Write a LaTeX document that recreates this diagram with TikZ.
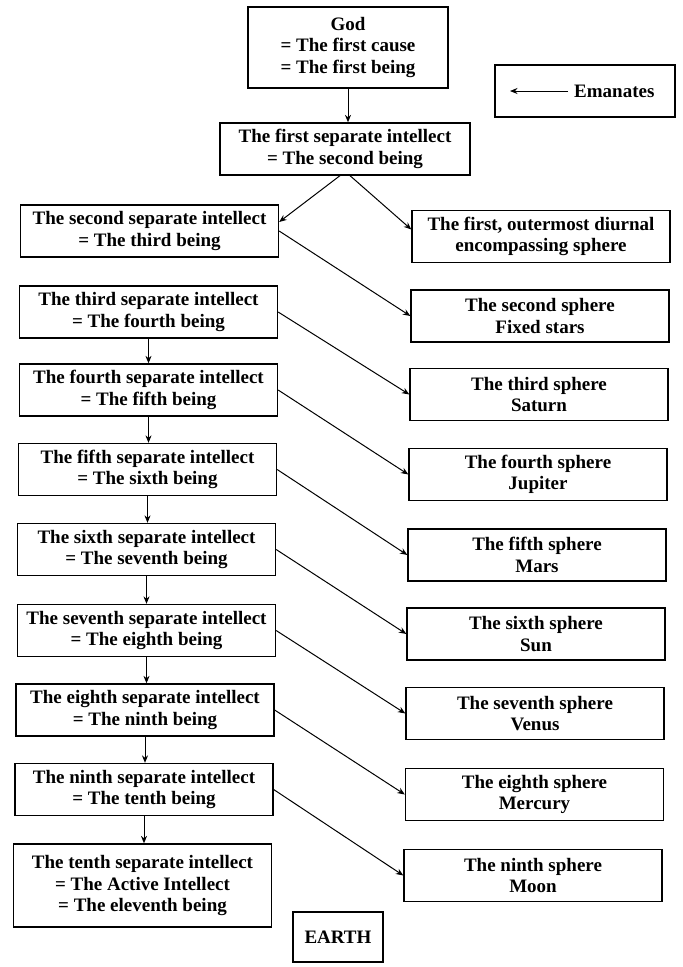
\documentclass[tikz,border=0pt]{standalone}
\usepackage{fontspec}
\setmainfont{Liberation Serif}
\usetikzlibrary{arrows.meta}
\begin{document}
\begin{tikzpicture}[x=1pt,y=-1pt,
  box/.style={draw, line width=1.3pt, align=center,
    font=\fontsize{19}{21.5}\selectfont\bfseries, inner sep=0pt,
    minimum height=52pt, minimum width=258pt},
  arr/.style={-{Stealth[length=7.5pt,width=6pt]}, line width=1pt}]
\useasboundingbox (0,0) rectangle (683,967);

% top
\node[box, minimum width=200pt, minimum height=81pt] (god) at (348,47.5)
  {God\\= The first cause\\= The first being};
\node[box, minimum width=180pt] (em) at (585,91) {};
\node[anchor=west, inner sep=0pt, font=\fontsize{19}{21.5}\selectfont\bfseries] (emt) at (574,91) {Emanates};
\coordinate (emtip) at (510,91);
\draw[arr] ([xshift=-6pt]emt.west) -- (emtip);

\node[box, minimum width=250pt] (i1) at (345,149)
  {The first separate intellect\\= The second being};

% left column
\node[box] (i2) at (149.5,231) {The second separate intellect\\= The third being};
\node[box] (i3) at (148.5,312) {The third separate intellect\\= The fourth being};
\node[box] (i4) at (148.5,390) {The fourth separate intellect\\= The fifth being};
\node[box] (i5) at (147.5,469.5) {The fifth separate intellect\\= The sixth being};
\node[box] (i6) at (146.5,549.5) {The sixth separate intellect\\= The seventh being};
\node[box] (i7) at (146.5,630.5) {The seventh separate intellect\\= The eighth being};
\node[box] (i8) at (145,710) {The eighth separate intellect\\= The ninth being};
\node[box] (i9) at (144,789.5) {The ninth separate intellect\\= The tenth being};
\node[box, minimum height=83pt] (i10) at (142.5,885.5)
  {The tenth separate intellect\\= The Active Intellect\\= The eleventh being};

% right column
\node[box] (s1) at (541,236.5) {The first, outermost diurnal\\encompassing sphere};
\node[box] (s2) at (540,316) {The second sphere\\Fixed stars};
\node[box] (s3) at (539,394.5) {The third sphere\\Saturn};
\node[box] (s4) at (538,474.5) {The fourth sphere\\Jupiter};
\node[box] (s5) at (537,555) {The fifth sphere\\Mars};
\node[box] (s6) at (536,634) {The sixth sphere\\Sun};
\node[box] (s7) at (535,713.5) {The seventh sphere\\Venus};
\node[box] (s8) at (534.5,794.5) {The eighth sphere\\Mercury};
\node[box] (s9) at (533,875.5) {The ninth sphere\\Moon};

\node[box, minimum width=90pt, minimum height=50pt] (earth) at (338,937) {EARTH};

% arrows
\draw[arr] (god.south) -- (god.south |- i1.north);
\draw[arr] ([xshift=-5pt]i1.south) -- ([yshift=9pt]i2.east);
\draw[arr] ([xshift=5pt]i1.south) -- ([yshift=7pt]s1.west);

\draw[arr] (i2.east) -- (s2.west);
\draw[arr] (i3.east) -- (s3.west);
\draw[arr] (i4.east) -- (s4.west);
\draw[arr] (i5.east) -- (s5.west);
\draw[arr] (i6.east) -- (s6.west);
\draw[arr] (i7.east) -- (s7.west);
\draw[arr] (i8.east) -- (s8.west);
\draw[arr] (i9.east) -- (s9.west);

\draw[arr] (i3.south) -- (i3.south |- i4.north);
\draw[arr] (i4.south) -- (i4.south |- i5.north);
\draw[arr] (i5.south) -- (i5.south |- i6.north);
\draw[arr] (i6.south) -- (i6.south |- i7.north);
\draw[arr] (i7.south) -- (i7.south |- i8.north);
\draw[arr] (i8.south) -- (i8.south |- i9.north);
\draw[arr] (i9.south) -- (i9.south |- i10.north);
\end{tikzpicture}
\end{document}
